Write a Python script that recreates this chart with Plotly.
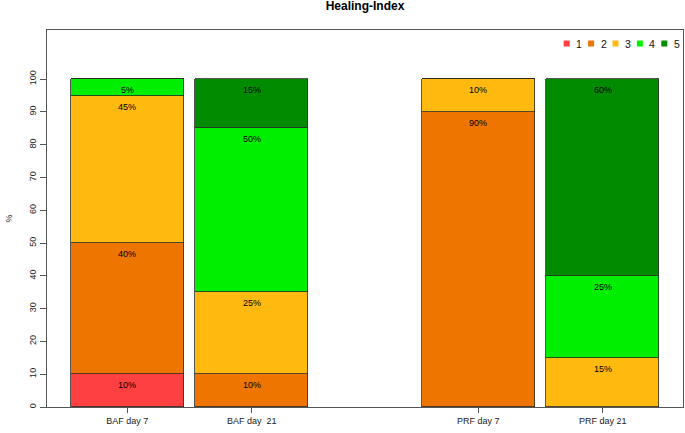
import plotly.graph_objects as go
from itertools import accumulate

# ---- data ----
groups = ["BAF day 7", "BAF day  21", "PRF day 7", "PRF day 21"]
levels = ["1", "2", "3", "4", "5"]
level1 = [10, 0, 0, 0]
level2 = [40, 10, 90, 0]
level3 = [45, 25, 10, 15]
level4 = [5, 50, 0, 25]
level5 = [0, 15, 0, 60]
y_ticks = [0, 10, 20, 30, 40, 50, 60, 70, 80, 90, 100]

series = [level1, level2, level3, level4, level5]
colors = ["#FF4040", "#EE7600", "#FFB90F", "#00EE00", "#008B00"]

# R barplot-like layout: bar width 1, spaces between bars
bar_width = 1.0
spaces = [0.1, 0.1, 1.0, 0.1]
right_edges = list(accumulate(s + bar_width for s in spaces))
centers = [r - bar_width / 2 for r in right_edges]
left_lim = right_edges[0] - bar_width
right_lim = right_edges[-1]
ext = 0.04 * (right_lim - left_lim)
x_range = [left_lim - ext, right_lim + ext]

fig = go.Figure()
for name, vals, col in zip(levels, series, colors):
    fig.add_trace(go.Bar(
        x=centers, y=vals, width=bar_width, name=name,
        marker=dict(color=col, line=dict(color="#2a2a2a", width=0.8)),
        showlegend=False, hoverinfo="y",
    ))

# segment labels near the top of each segment
annotations = []
cum = [0] * len(groups)
for vals in series:
    for i, v in enumerate(vals):
        cum[i] += v
        if v > 0:
            annotations.append(dict(
                x=centers[i], y=cum[i], xref="x", yref="y",
                text=f"{v}%", showarrow=False, yanchor="top", yshift=-4,
                font=dict(family="Liberation Sans, Arial", size=9, color="black"),
            ))

# legend drawn in paper coordinates (R style, horizontal, top-right)
plot_w = 636.0
plot_h = 377.0
leg_x0 = (566.7 - 47) / plot_w
leg_dx = 24.4 / plot_w
leg_y = (407 - 43.5) / plot_h
sq = 6
shapes = []
for k, (name, col) in enumerate(zip(levels, colors)):
    cx = leg_x0 + k * leg_dx
    shapes.append(dict(
        type="rect", xref="paper", yref="paper",
        x0=cx - sq / 2 / plot_w, x1=cx + sq / 2 / plot_w,
        y0=leg_y - sq / 2 / plot_h, y1=leg_y + sq / 2 / plot_h,
        fillcolor=col, line=dict(width=0),
    ))
    annotations.append(dict(
        x=cx + 12.5 / plot_w, y=leg_y, xref="paper", yref="paper",
        text=name, showarrow=False, xanchor="center", yanchor="middle",
        font=dict(family="Liberation Sans, Arial", size=10.5, color="#111"),
    ))

fig.update_layout(
    width=685, height=433,
    margin=dict(l=47, r=2, t=30, b=26),
    paper_bgcolor="white", plot_bgcolor="white",
    barmode="stack", bargap=0,
    title=dict(text="<b>Healing-Index</b>", x=0.5 * (47 + 683) / 685, xanchor="center",
               y=1 - 6 / 433, yanchor="middle",
               font=dict(family="Liberation Sans, Arial", size=12, color="black")),
    font=dict(family="Liberation Sans, Arial", size=9, color="#222"),
    annotations=annotations,
    shapes=shapes,
    xaxis=dict(
        range=x_range, tickvals=centers, ticktext=groups,
        showgrid=False, zeroline=False, showline=True, mirror=True,
        linecolor="#555", linewidth=1,
        ticks="outside", ticklen=5, tickcolor="#555",
        tickfont=dict(size=9, color="#222"),
    ),
    yaxis=dict(
        range=[0, 115], tickvals=y_ticks, tickangle=-90,
        showgrid=False, zeroline=False, showline=True, mirror=True,
        linecolor="#555", linewidth=1,
        ticks="outside", ticklen=6, tickcolor="#555",
        tickfont=dict(size=9, color="#222"),
        title=dict(text="%", font=dict(size=9, color="#222"), standoff=14),
    ),
)

fig.write_html("out.html", config={"displayModeBar": False},
               post_script="document.body.style.margin='0px';")
